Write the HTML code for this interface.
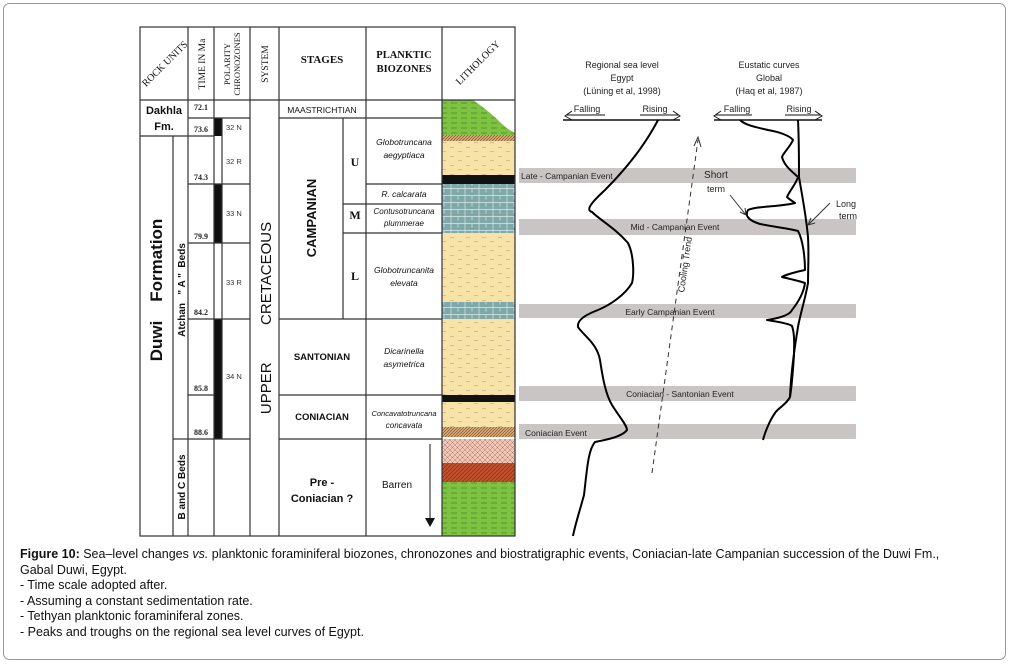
<!DOCTYPE html>
<html><head><meta charset="utf-8"><style>
html,body{margin:0;padding:0;background:#fff;}
svg{display:block;}
.t{font-family:"Liberation Serif",serif;}
.s{font-family:"Liberation Sans",sans-serif;}
.n{font-family:"Liberation Sans Narrow","Liberation Sans",sans-serif;}
</style></head><body>
<svg width="1010" height="665" viewBox="0 0 1010 665" xmlns="http://www.w3.org/2000/svg">
<defs>
<pattern id="sand" width="16" height="9" patternUnits="userSpaceOnUse"><rect width="16" height="9" fill="#f7e3a8"/><path d="M2 4q2-1.5 4 0M10 8q2-1.5 4 0" stroke="#a89870" stroke-width="0.6" fill="none"/></pattern>
<pattern id="lime" width="14" height="7" patternUnits="userSpaceOnUse"><rect width="14" height="7" fill="#7fa8a8"/><path d="M0 6.5H14M3 0V7M10 0V3.5" stroke="#d9e8e8" stroke-width="0.7"/></pattern>
<pattern id="green" width="10" height="5" patternUnits="userSpaceOnUse"><rect width="10" height="5" fill="#7ec242"/><path d="M1 3H7" stroke="#3a7a22" stroke-width="0.6"/></pattern>
<pattern id="hatch" width="3" height="3" patternUnits="userSpaceOnUse"><rect width="3" height="3" fill="#d9a673"/><path d="M0 3L3 0" stroke="#6b4a2a" stroke-width="0.6"/></pattern>
<pattern id="pink" width="5" height="5" patternUnits="userSpaceOnUse"><rect width="5" height="5" fill="#f0c8b8"/><path d="M0 5L5 0M0 0L5 5" stroke="#b07060" stroke-width="0.5"/></pattern>
<pattern id="red" width="4" height="4" patternUnits="userSpaceOnUse"><rect width="4" height="4" fill="#c0502e"/><path d="M0 4L4 0" stroke="#7a2a18" stroke-width="0.6"/></pattern>
</defs>
<rect x="3.5" y="3.5" width="1002" height="656" rx="6" fill="#fff" stroke="#999" stroke-width="1"/>

<path d="M442 100H473Q490 112 500 122Q508 130 515 133V135H442Z" fill="url(#green)"/>
<rect x="442" y="135" width="73" height="6" fill="url(#hatch)"/>
<rect x="442" y="141" width="73" height="34" fill="url(#sand)"/>
<rect x="442" y="175" width="73" height="9" fill="#111"/>
<rect x="442" y="184" width="73" height="49" fill="url(#lime)"/>
<rect x="442" y="233" width="73" height="69" fill="url(#sand)"/>
<rect x="442" y="302" width="73" height="17" fill="url(#lime)"/>
<rect x="442" y="319" width="73" height="76" fill="url(#sand)"/>
<rect x="442" y="395" width="73" height="7" fill="#111"/>
<rect x="442" y="402" width="73" height="25" fill="url(#sand)"/>
<rect x="442" y="427" width="73" height="10" fill="url(#hatch)"/>
<rect x="442" y="439" width="73" height="24" fill="url(#pink)"/>
<rect x="442" y="463" width="73" height="19" fill="url(#red)"/>
<rect x="442" y="482" width="73" height="54" fill="url(#green)"/>

<rect x="214" y="118" width="8" height="18" fill="#111"/>
<rect x="214" y="184" width="8" height="59" fill="#111"/>
<rect x="214" y="319" width="8" height="120" fill="#111"/>

<g stroke="#333" stroke-width="1.2" fill="none">
<rect x="140" y="27" width="375" height="509"/>
<line x1="140" y1="100" x2="515" y2="100"/>
<line x1="188" y1="27" x2="188" y2="536"/>
<line x1="214" y1="27" x2="214" y2="536"/>
<line x1="250" y1="27" x2="250" y2="536"/>
<line x1="279" y1="27" x2="279" y2="536"/>
<line x1="366" y1="27" x2="366" y2="536"/>
<line x1="442" y1="27" x2="442" y2="536"/>
<line x1="173" y1="136" x2="173" y2="536"/>
<line x1="140" y1="136" x2="188" y2="136"/>
<line x1="173" y1="439" x2="188" y2="439"/>
<line x1="188" y1="118" x2="250" y2="118"/>
<line x1="188" y1="136" x2="214" y2="136"/>
<line x1="188" y1="184" x2="250" y2="184"/>
<line x1="188" y1="243" x2="250" y2="243"/>
<line x1="188" y1="319" x2="250" y2="319"/>
<line x1="188" y1="395" x2="214" y2="395"/>
<line x1="188" y1="439" x2="250" y2="439"/>
<line x1="222" y1="118" x2="222" y2="439"/>
<line x1="279" y1="118" x2="442" y2="118"/>
<line x1="343" y1="118" x2="343" y2="319"/>
<line x1="343" y1="204" x2="442" y2="204"/>
<line x1="343" y1="233" x2="442" y2="233"/>
<line x1="366" y1="184" x2="442" y2="184"/>
<line x1="279" y1="319" x2="442" y2="319"/>
<line x1="279" y1="395" x2="442" y2="395"/>
<line x1="279" y1="439" x2="442" y2="439"/>
</g>

<g class="t" font-size="9.5" fill="#111">
<text transform="translate(167,66) rotate(-45)" text-anchor="middle" font-size="10">ROCK UNITS</text>
<text transform="translate(205,64) rotate(-90)" text-anchor="middle">TIME IN Ma</text>
<text transform="translate(230,64) rotate(-90)" text-anchor="middle" font-size="8.5">POLARITY</text>
<text transform="translate(240,64) rotate(-90)" text-anchor="middle" font-size="8.5">CHRONOZONES</text>
<text transform="translate(268,64) rotate(-90)" text-anchor="middle">SYSTEM</text>
<text x="322" y="63" text-anchor="middle" font-size="11" font-weight="bold">STAGES</text>
<text x="404" y="58" text-anchor="middle" font-size="10.5" font-weight="bold">PLANKTIC</text>
<text x="404" y="72" text-anchor="middle" font-size="10.5" font-weight="bold">BIOZONES</text>
<text transform="translate(480,65) rotate(-45)" text-anchor="middle" font-size="10">LITHOLOGY</text>
</g>

<g class="t" font-size="8" font-weight="bold" fill="#222">
<text x="194" y="110">72.1</text><text x="194" y="132">73.6</text>
<text x="194" y="180">74.3</text><text x="194" y="239">79.9</text>
<text x="194" y="315">84.2</text><text x="194" y="391">85.8</text>
<text x="194" y="435">88.6</text>
</g>
<g class="n" font-size="7.5" fill="#333">
<text x="226" y="130">32 N</text><text x="226" y="164">32 R</text>
<text x="226" y="216">33 N</text><text x="226" y="285">33 R</text>
<text x="226" y="379">34 N</text>
</g>

<g class="s" fill="#111">
<text x="164" y="114" text-anchor="middle" font-size="11" font-weight="bold">Dakhla</text>
<text x="164" y="130" text-anchor="middle" font-size="11" font-weight="bold">Fm.</text>
<text transform="translate(162,290) rotate(-90)" text-anchor="middle" font-size="17" font-weight="bold">Duwi&#160;&#160;&#160;&#160;Formation</text>
<text transform="translate(185,290) rotate(-90)" text-anchor="middle" font-size="10" font-weight="bold">Atchan&#160;&#160;&#160;" A "&#160;&#160;Beds</text>
<text transform="translate(185,487) rotate(-90)" text-anchor="middle" font-size="10" font-weight="bold">B and C Beds</text>
<text transform="translate(271,318) rotate(-90)" text-anchor="middle" font-size="15">UPPER&#160;&#160;&#160;&#160;&#160;&#160;&#160;&#160;&#160;CRETACEOUS</text>
<text x="322" y="113" text-anchor="middle" font-size="8.5">MAASTRICHTIAN</text>
<text transform="translate(316,218) rotate(-90)" text-anchor="middle" font-size="13" font-weight="bold">CAMPANIAN</text>
<text x="322" y="360" text-anchor="middle" font-size="9.5" font-weight="bold">SANTONIAN</text>
<text x="322" y="420" text-anchor="middle" font-size="9.5" font-weight="bold">CONIACIAN</text>
<text x="322" y="486" text-anchor="middle" font-size="11" font-weight="bold">Pre -</text>
<text x="322" y="502" text-anchor="middle" font-size="11" font-weight="bold">Coniacian ?</text>
</g>
<g class="t" font-weight="bold" font-size="12" fill="#111">
<text x="355" y="166" text-anchor="middle">U</text>
<text x="355" y="219" text-anchor="middle">M</text>
<text x="355" y="280" text-anchor="middle">L</text>
</g>
<g class="s" font-style="italic" font-size="8.5" fill="#111" text-anchor="middle">
<text x="404" y="145">Globotruncana</text><text x="404" y="158">aegyptiaca</text>
<text x="404" y="197">R. calcarata</text>
<text x="404" y="214" font-size="8">Contusotruncana</text><text x="404" y="226" font-size="8">plummerae</text>
<text x="404" y="273">Globotruncanita</text><text x="404" y="286">elevata</text>
<text x="404" y="354">Dicarinella</text><text x="404" y="367">asymetrica</text>
<text x="404" y="416" font-size="7.5">Concavatotruncana</text><text x="404" y="428" font-size="8">concavata</text>
<text x="397" y="488" font-style="normal" font-size="10">Barren</text>
</g>
<line x1="430" y1="444" x2="430" y2="520" stroke="#111" stroke-width="1"/>
<path d="M425 518L435 518L430 527Z" fill="#111"/>

<g fill="#c9c5c5">
<rect x="519" y="168" width="337" height="15"/>
<rect x="519" y="219" width="337" height="16"/>
<rect x="519" y="304" width="337" height="14"/>
<rect x="519" y="386" width="337" height="15"/>
<rect x="519" y="424" width="337" height="15"/>
</g>
<g class="s" font-size="8.5" fill="#222">
<text x="521" y="179">Late - Campanian Event</text>
<text x="675" y="230" text-anchor="middle">Mid - Campanian Event</text>
<text x="670" y="315" text-anchor="middle">Early Campanian Event</text>
<text x="680" y="397" text-anchor="middle">Coniacian - Santonian Event</text>
<text x="525" y="436">Coniacian Event</text>
</g>

<g class="s" font-size="9" fill="#222" text-anchor="middle">
<text x="622" y="68">Regional sea level</text><text x="622" y="81">Egypt</text><text x="622" y="94">(Lüning et al, 1998)</text>
<text x="769" y="68">Eustatic curves</text><text x="769" y="81">Global</text><text x="769" y="94">(Haq et al, 1987)</text>
<text x="587" y="112">Falling</text><text x="655" y="112">Rising</text>
<text x="737" y="112">Falling</text><text x="799" y="112">Rising</text>
<text x="716" y="178" font-size="10">Short</text><text x="716" y="192">term</text>
<text x="846" y="207">Long</text><text x="848" y="219">term</text>
</g>
<g stroke="#111" fill="none" stroke-width="1">
<line x1="563" y1="120" x2="680" y2="120" stroke-width="1.5"/>
<path d="M605 115H567M572 111L565 116L572 120"/>
<path d="M640 115H678M673 111L680 116L673 120"/>
<line x1="714" y1="120" x2="822" y2="120" stroke-width="1.5"/>
<path d="M752 115H716M721 111L714 116L721 120"/>
<path d="M785 115H820M815 111L822 116L815 120"/>
</g>

<g stroke="#000" fill="none" stroke-width="2" stroke-linejoin="round">
<path d="M658 120C645 145 625 170 605 190C592 202 585 210 592 212C600 220 615 228 628 243C634 255 634 275 632 283C625 295 610 305 598 310C585 315 577 320 578 327C583 335 597 343 600 360C603 380 606 395 612 405C618 415 627 425 627 430C622 437 605 440 595 442C588 450 587 470 584 495C580 510 575 525 573 536"/>
<path d="M740 120C745 125 755 127 768 130C780 132 790 136 793 140C790 147 784 152 782 157C784 165 790 170 798 177C796 184 790 190 787 197C790 200 794 202 795 203C780 207 755 206 748 210C745 215 747 220 760 224C775 227 792 229 798 231C803 240 805 258 805 270C795 272 785 275 782 277C790 279 800 281 805 283C804 290 800 300 792 310C790 315 780 318 767 320C780 322 790 324 792 326C795 335 794 345 794 355C793 370 792 385 790 397C786 405 778 408 775 413C770 420 765 432 763 440"/>
<path d="M798 120C799 140 799 160 799 177C802 195 806 215 808 237C809 255 808 270 808 283C805 300 800 315 798 327C795 345 791 370 790 397"/>
</g>
<g stroke="#333" stroke-width="1" fill="none">
<path d="M652 473L698 140" stroke-dasharray="5 4"/>
<path d="M694 146L698 137L701 147"/>
<path d="M730 195L746 215M740 212L746 215L745 208"/>
<path d="M830 203L808 225M811 218L808 225L815 223"/>
</g>
<text transform="translate(688,265) rotate(-82)" text-anchor="middle" class="s" font-size="9" fill="#222">Cooling Trend</text>

<g class="n" font-size="12.5" fill="#111">
<text x="20" y="558"><tspan font-weight="bold">Figure 10:</tspan> Sea–level changes <tspan font-style="italic">vs.</tspan> planktonic foraminiferal biozones, chronozones and biostratigraphic events, Coniacian-late Campanian succession of the Duwi Fm.,</text>
<text x="20" y="574">Gabal Duwi, Egypt.</text>
<text x="20" y="589">- Time scale adopted after.</text>
<text x="20" y="605">- Assuming a constant sedimentation rate.</text>
<text x="20" y="620">- Tethyan planktonic foraminiferal zones.</text>
<text x="20" y="636">- Peaks and troughs on the regional sea level curves of Egypt.</text>
</g>
</svg>
</body></html>
